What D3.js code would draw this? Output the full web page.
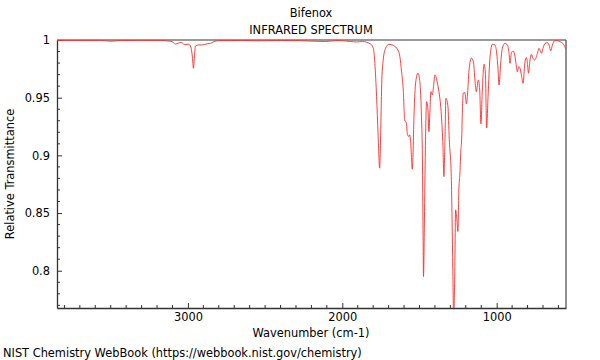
<!DOCTYPE html>
<html>
<head>
<meta charset="utf-8">
<script src="https://cdn.jsdelivr.net/npm/d3@7"></script>
<style>
  body { margin: 0; background: #fff; }
  text { font-family: "DejaVu Sans", sans-serif; fill: #000; }
</style>
</head>
<body>
<svg id="chart"></svg>
<script>
// spectrum, ordered from high to low wavenumber
const wavenumbers = [
  3848, 3697, 3567, 3496, 3438, 3308, 3178, 3126, 3102, 3081, 3062, 3042, 3023, 2995, 2981, 2971,
  2964, 2958, 2951, 2932, 2912, 2893, 2874, 2854, 2833, 2802, 2660, 2530, 2400, 2271, 2109, 2044,
  2011, 1947, 1908, 1869, 1817, 1799, 1789, 1778, 1768, 1758, 1751, 1744, 1735, 1720, 1698, 1668,
  1640, 1627, 1616, 1605, 1596, 1585, 1579, 1570, 1564, 1558, 1551, 1547, 1541, 1538, 1532, 1519,
  1510, 1499, 1488, 1481, 1477, 1474, 1468, 1462, 1454, 1445, 1439, 1432, 1426, 1417, 1410, 1400,
  1384, 1374, 1358, 1348, 1342, 1335, 1329, 1316, 1307, 1294, 1289, 1284, 1279, 1272, 1266, 1258,
  1251, 1245, 1238, 1232, 1227, 1222, 1216, 1206, 1196, 1190, 1179, 1164, 1151, 1141, 1132, 1119,
  1110, 1102, 1093, 1082, 1073, 1065, 1056, 1043, 1028, 1011, 1000, 991, 985, 974, 963, 946,
  931, 920, 914, 905, 894, 883, 875, 866, 857, 849, 838, 829, 818, 807, 801, 794,
  784, 775, 765, 754, 736, 726, 717, 710, 700, 687, 671, 661, 650, 639, 624, 607,
  585, 568, 551
];
const transmittance = [
  0.9996, 0.9996, 0.9997, 0.9989, 0.9996, 0.9997, 0.9996, 0.9991, 0.9985, 0.9965, 0.9974, 0.9978, 0.9961, 0.9963, 0.9939, 0.9853,
  0.9755, 0.9853, 0.9948, 0.9957, 0.9957, 0.9961, 0.9968, 0.9971, 0.9985, 0.9994, 0.9996, 0.9993, 0.9996, 0.9994, 0.9987, 0.9994,
  0.9994, 0.9987, 0.9983, 0.9987, 0.9965, 0.9928, 0.9798, 0.9509, 0.9177, 0.8889, 0.9221, 0.9654, 0.9827, 0.9928, 0.9963, 0.9952,
  0.9913, 0.9855, 0.9725, 0.9567, 0.9307, 0.9279, 0.9192, 0.9163, 0.9177, 0.9134, 0.8961, 0.8880, 0.9047, 0.9221, 0.9480, 0.9682,
  0.9712, 0.9654, 0.9368, 0.8961, 0.8355, 0.7950, 0.8441, 0.9047, 0.9466, 0.9394, 0.9206, 0.9394, 0.9552, 0.9524, 0.9584, 0.9697,
  0.9628, 0.9552, 0.9342, 0.9076, 0.8816, 0.9134, 0.9495, 0.9428, 0.9134, 0.8816, 0.8441, 0.8008, 0.7600, 0.7922, 0.8528, 0.8441,
  0.8340, 0.8701, 0.8846, 0.9047, 0.9134, 0.9394, 0.9541, 0.9544, 0.9446, 0.9509, 0.9740, 0.9842, 0.9812, 0.9654, 0.9552, 0.9654,
  0.9567, 0.9273, 0.9567, 0.9790, 0.9712, 0.9238, 0.9509, 0.9855, 0.9963, 0.9957, 0.9887, 0.9740, 0.9610, 0.9801, 0.9931, 0.9971,
  0.9957, 0.9885, 0.9798, 0.9885, 0.9905, 0.9870, 0.9798, 0.9725, 0.9769, 0.9755, 0.9682, 0.9625, 0.9798, 0.9847, 0.9798, 0.9712,
  0.9827, 0.9876, 0.9842, 0.9827, 0.9885, 0.9928, 0.9905, 0.9885, 0.9928, 0.9971, 0.9977, 0.9957, 0.9907, 0.9957, 0.9994, 0.9994,
  0.9983, 0.9965, 0.9919
];

const xMajorTicks = [3000, 2000, 1000];
const yMajorTicks = [0.8, 0.85, 0.9, 0.95, 1];
const yTickLabels = ["0.8", "0.85", "0.9", "0.95", "1"];

const titleText = "Bifenox";
const subtitleText = "INFRARED SPECTRUM";
const xLabel = "Wavenumber (cm-1)";
const yLabel = "Relative Transmittance";
const footerText = "NIST Chemistry WebBook (https://webbook.nist.gov/chemistry)";

const fontSize = 11.4;
const width = 600, height = 360;
const margin = {top: 40, right: 34, bottom: 52, left: 57};
const plotW = width - margin.left - margin.right;
const plotH = height - margin.top - margin.bottom;

const svg = d3.select('#chart').attr('width', width).attr('height', height);

const x = d3.scaleLinear().domain([3848, 551]).range([0, plotW]);
const y = d3.scaleLinear().domain([0.7677, 1]).range([plotH, 0]);

// minor ticks every 100 cm-1 and every 0.01
const xMinor = d3.range(600, 3850, 100).filter(function (v) { return v % 1000 !== 0 });
const yMinor = d3.range(77, 100).map(function (v) { return v / 100 }).filter(function (v) {
  return Math.round(v * 100) % 5 !== 0
});

const g = svg.append('g').attr('transform', `translate(${margin.left},${margin.top})`);

svg.append('defs').append('clipPath').attr('id', 'plotclip')
  .append('rect').attr('width', plotW).attr('height', plotH);

// frame: top and right in grey
g.append('line').attr('x1', 0).attr('x2', plotW).attr('y1', 0).attr('y2', 0)
  .attr('stroke', '#999').attr('stroke-width', 2);
g.append('line').attr('x1', plotW).attr('x2', plotW).attr('y1', 0).attr('y2', plotH)
  .attr('stroke', '#555').attr('stroke-width', 1.3);

// x axis, ticks pointing inward
const xAxis = g.append('g').attr('transform', `translate(0,${plotH})`)
  .call(d3.axisBottom(x).tickValues(xMajorTicks).tickFormat(d3.format('d'))
    .tickSizeInner(-5).tickSizeOuter(0).tickPadding(5));
xAxis.append('g').selectAll('line').data(xMinor).enter().append('line')
  .attr('x1', function (d) { return x(d) }).attr('x2', function (d) { return x(d) })
  .attr('y1', 0).attr('y2', -3).attr('stroke', '#333');

const yAxis = g.append('g')
  .call(d3.axisLeft(y).tickValues(yMajorTicks).tickFormat(function (d, i) { return yTickLabels[i] })
    .tickSizeInner(-5).tickSizeOuter(0).tickPadding(7));
yAxis.append('g').selectAll('line').data(yMinor).enter().append('line')
  .attr('y1', function (d) { return y(d) }).attr('y2', function (d) { return y(d) })
  .attr('x1', 0).attr('x2', 3).attr('stroke', '#333');

svg.selectAll('.domain').attr('stroke', '#333').attr('stroke-width', 1.3);
svg.selectAll('.tick line').attr('stroke', '#333');
svg.selectAll('.tick text').attr('font-size', fontSize).attr('font-family', 'DejaVu Sans').attr('fill', '#000');

// spectrum
const points = wavenumbers.map(function (w, i) { return [w, transmittance[i]] });
const line = d3.line()
  .x(function (d) { return x(d[0]) })
  .y(function (d) { return y(d[1]) })
  .curve(d3.curveMonotoneX);

g.append('path')
  .datum(points)
  .attr('clip-path', 'url(#plotclip)')
  .attr('d', line)
  .attr('fill', 'none')
  .attr('stroke', '#ff2a2a')
  .attr('stroke-width', 0.9);

// texts
svg.append('text').attr('x', 311).attr('y', 17).attr('text-anchor', 'middle')
  .attr('font-size', fontSize).text(titleText);
svg.append('text').attr('x', 311).attr('y', 34).attr('text-anchor', 'middle')
  .attr('font-size', fontSize).text(subtitleText);
svg.append('text').attr('x', 311).attr('y', 337).attr('text-anchor', 'middle')
  .attr('font-size', fontSize).text(xLabel);
svg.append('text').attr('transform', 'translate(14,174) rotate(-90)').attr('text-anchor', 'middle')
  .attr('font-size', fontSize).text(yLabel);
svg.append('text').attr('x', 3).attr('y', 357).attr('font-size', fontSize).text(footerText);
</script>
</body>
</html>
